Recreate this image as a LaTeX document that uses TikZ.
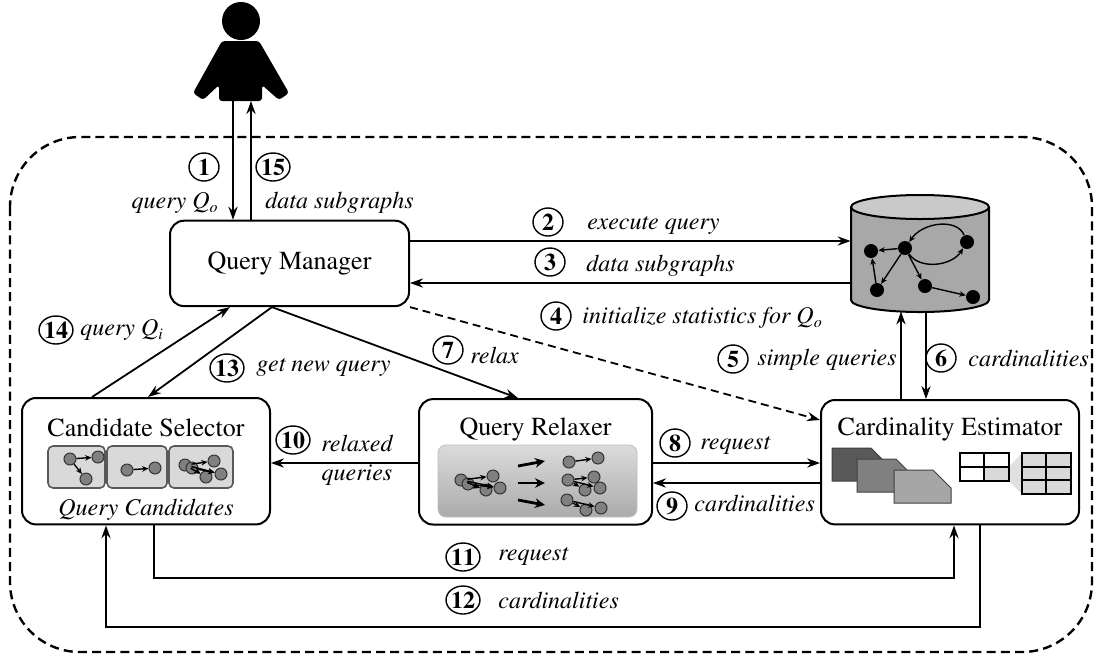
\documentclass[tikz,border=0pt]{standalone}
\usepackage[T1]{fontenc}
\usepackage{times}
\usetikzlibrary{arrows.meta,shapes.geometric}

\tikzset{
  box/.style={draw, line width=1pt, rounded corners=7pt, inner sep=0pt, fill=white},
  ttl/.style={inner sep=0pt, font=\fontsize{13}{15}\selectfont},
  num/.style={ellipse, draw, line width=0.7pt, inner sep=0pt, minimum width=15pt, minimum height=14pt, font=\bfseries\fontsize{12}{13}\selectfont},
  lab/.style={anchor=west, inner sep=0pt, font=\itshape\fontsize{12}{14.5}\selectfont},
  arr/.style={line width=0.9pt, -{Stealth[length=6.5pt,width=4.6pt,inset=2.2pt]}},
  subbox/.style={draw=black!65, fill=black!15, line width=0.8pt, rounded corners=2.5pt, inner sep=0pt, minimum height=21pt},
  gnode/.style={circle, draw=black!80, fill=black!50, line width=0.5pt, inner sep=0pt, minimum size=6pt},
  garr/.style={line width=0.7pt, -{Stealth[length=3.2pt,width=2.8pt]}},
  bigarr/.style={line width=1.4pt, -{Stealth[length=5pt,width=4.8pt]}},
  dbnode/.style={circle, fill=black, inner sep=0pt, minimum size=7pt},
  fold/.style={draw=black!75, line width=0.5pt},
}

\begin{document}
\begin{tikzpicture}[x=0.5pt, y=-0.5pt]
    \useasboundingbox (0,0) rectangle (1097,655);

    % system border
    \draw[line width=1.2pt, dash pattern=on 4.5pt off 2.6pt, rounded corners=35pt] (10,137) rectangle (1092,652);

    % user
    \fill (241,21) circle[radius=9.5pt];
    \fill[rounded corners=1.5pt] (222,41) -- (259,41) -- (289,93) -- (279,100) -- (262,85) -- (262,101) -- (219,101) -- (219,85) -- (203,100) -- (193,93) -- cycle;
    \coordinate (user) at (241,101);

    % database
    \fill[black!34] (851,207) -- (851,300) arc[start angle=180, end angle=360, x radius=34.5pt, y radius=6pt] -- (989,207) -- cycle;
    \draw[line width=1pt] (851,207) -- (851,300) arc[start angle=180, end angle=360, x radius=34.5pt, y radius=6pt] -- (989,207);
    \draw[line width=1pt, fill=black!21] (920,207) ellipse[x radius=34.5pt, y radius=6pt];
    \node[minimum width=69pt, minimum height=59pt, inner sep=0pt] (db) at (920,254) {};
    \coordinate (dbin) at (901,311.5);
    \coordinate (dbout) at (926,312);
    \node[dbnode] (g1) at (871,251) {};
    \node[dbnode] (g2) at (905,248) {};
    \node[dbnode] (g3) at (967,242) {};
    \node[dbnode] (g4) at (877,290) {};
    \node[dbnode] (g5) at (925,286) {};
    \node[dbnode] (g6) at (973,297) {};
    \draw[garr] (g2) -- (g1);
    \draw[garr] (g4) -- (g1);
    \draw[garr] (g2) -- (g4);
    \draw[garr] (g2) -- (g5);
    \draw[garr] (g5) -- (g6);
    \draw[garr] (g2) .. controls +(15,22) and +(-15,24) .. (g3);
    \draw[garr] (g3) .. controls +(-10,-24) and +(18,-26) .. (g2);

    % components
    \node[box, font=\fontsize{13}{15}\selectfont, minimum width=119.5pt, minimum height=42.7pt] (qm) at (289.5,263.4) {Query Manager};
    \node[box, minimum width=124pt, minimum height=63.2pt] (cs) at (146,461.2) {};
    \node[box, minimum width=116.5pt, minimum height=62.7pt] (qr) at (535.5,461.8) {};
    \node[box, minimum width=129pt, minimum height=62.2pt] (ce) at (950,462.2) {};

    % candidate selector
    \node[ttl] (cst) at (146,428) {Candidate Selector};
    \node[subbox, minimum width=28.5pt] (sb1) at (76.5,467) {};
    \node[subbox, minimum width=30pt] (sb2) at (137,467) {};
    \node[subbox, minimum width=32pt] (sb3) at (201,467) {};
    \node[lab, anchor=center, font=\itshape\fontsize{12}{14}\selectfont] (csl) at (146,510) {Query Candidates};
    \node[gnode] (e1) at (70,459) {};
    \node[gnode] (e2) at (98,457) {};
    \node[gnode] (e3) at (86,479) {};
    \draw[garr] (e1) -- (e2);
    \draw[garr] (e1) -- (e3);
    \node[gnode] (f1) at (127,470) {};
    \node[gnode] (f2) at (155,468) {};
    \draw[garr] (f1) -- (f2);
    \node[gnode] (h1) at (185,465) {};
    \node[gnode] (h2) at (214,461) {};
    \node[gnode] (h3) at (206,477) {};
    \node[gnode] (h4) at (221,474) {};
    \node[gnode] (h5) at (192,468) {};
    \draw[garr] (h1) -- (h2);
    \draw[garr] (h1) -- (h3);
    \draw[garr] (h5) -- (h3);
    \draw[garr] (h1) -- (h4);
    \draw[garr] (h5) -- (h4);

    % query relaxer
    \node[ttl] (qrt) at (535.5,429) {Query Relaxer};
    \node[draw=black!25, rounded corners=4pt, top color=black!14, bottom color=black!33, minimum width=99.5pt, minimum height=36pt, inner sep=0pt] (qrin) at (537.5,481) {};
    \node[gnode] (a1) at (461,480) {};
    \node[gnode] (a2) at (468,484) {};
    \node[gnode] (a3) at (493,476) {};
    \node[gnode] (a4) at (486,490) {};
    \node[gnode] (a5) at (500,488) {};
    \draw[garr] (a1) -- (a3);
    \draw[garr] (a1) -- (a4);
    \draw[garr] (a2) -- (a4);
    \draw[garr] (a2) -- (a5);
    \draw[garr] (a1) -- (a5);
    \draw[bigarr] (518,466) -- (545,461);
    \draw[bigarr] (518,483) -- (545,483);
    \draw[bigarr] (518,500) -- (545,505);
    \node[gnode] (b1) at (569,462) {};
    \node[gnode] (b2) at (598,458) {};
    \draw[garr] (b1) -- (b2);
    \node[gnode] (c1) at (568,480) {};
    \node[gnode] (c2) at (594,477) {};
    \node[gnode] (c3) at (585,490) {};
    \node[gnode] (c4) at (600,488) {};
    \draw[garr] (c1) -- (c2);
    \draw[garr] (c1) -- (c3);
    \draw[garr] (c1) -- (c4);
    \node[gnode] (d1) at (567,500) {};
    \node[gnode] (d2) at (586,510) {};
    \node[gnode] (d3) at (601,508) {};
    \draw[garr] (d1) -- (d3);
    \draw[garr] (d1) -- (d2);

    % cardinality estimator
    \node[ttl] (cet) at (950,429) {Cardinality Estimator};
    \foreach \x/\y/\c in {832/448/black!65, 857/459/black!50, 894/470/black!35}
        \filldraw[fold, fill=\c] (\x,\y) -- ++(39,0) -- ++(18,18) -- ++(0,15) -- ++(-57,0) -- cycle;
    \fill[black!12] (1009,467) -- (1022,453) -- (1022,494) -- (1009,481) -- cycle;
    \fill[black!15] (984,467) rectangle (1009,481);
    \draw[line width=0.8pt] (960,453) rectangle (1009,481) (984,453) -- (984,481) (960,467) -- (1009,467);
    \fill[black!15] (1022,453) rectangle (1071,494);
    \draw[line width=0.8pt] (1022,453) rectangle (1071,494) (1046,453) -- (1046,494) (1022,467) -- (1071,467) (1022,480) -- (1071,480);

    % connectors
    \draw[arr] (233,0 |- user) -- (233,0 |- qm.north); % user -> QM
    \draw[arr] (251,0 |- qm.north) -- (251,0 |- user); % QM -> user
    \draw[arr] (qm.east |- 0,241) -- (db.west |- 0,241); % QM -> DB
    \draw[arr] (db.west |- 0,283) -- (qm.east |- 0,283); % DB -> QM
    \draw[arr, dash pattern=on 4pt off 2.5pt] (qm.south east) -- (ce.west |- 0,420); % QM -> CE
    \draw[arr] (901,0 |- ce.north) -- (dbin); % CE -> DB
    \draw[arr] (dbout) -- (926,0 |- ce.north); % DB -> CE
    \draw[arr] (272,0 |- qm.south) -- (518,0 |- qr.north); % QM -> QR
    \draw[arr] (qr.east |- 0,463) -- (ce.west |- 0,463); % QR -> CE
    \draw[arr] (ce.west |- 0,483) -- (qr.east |- 0,483); % CE -> QR
    \draw[arr] (qr.west |- 0,463) -- (cs.east |- 0,463); % QR -> CS
    \draw[arr] (154,0 |- cs.south) |- (954,578) -- (954,0 |- ce.south); % CS -> CE
    \draw[arr] (980,0 |- ce.south) |- (106,627) -- (106,0 |- cs.south); % CE -> CS
    \draw[arr] (272,0 |- qm.south) -- (148,0 |- cs.north); % QM -> CS
    \draw[arr] (92,0 |- cs.north) -- (230,0 |- qm.south); % CS -> QM

    % step labels
    \node[num] (n1) at (204,167) {1};
    \node[lab, anchor=east] (l1) at (219,203) {query Q\textsubscript{o}};
    \node[num] (n15) at (273,167) {15};
    \node[lab] (l15) at (265,203) {data subgraphs};
    \node[num] (n2) at (548,222) {2};
    \node[lab] (l2) at (587,226) {execute query};
    \node[num] (n3) at (550,262) {3};
    \node[lab] (l3) at (586,266) {data subgraphs};
    \node[num] (n4) at (556,316) {4};
    \node[lab] (l4) at (582,318) {initialize statistics for Q\textsubscript{o}};
    \node[num] (n5) at (733,359) {5};
    \node[lab] (l5) at (757,360) {simple queries};
    \node[num] (n6) at (941,358) {6};
    \node[lab] (l6) at (968,358) {cardinalities};
    \node[num] (n7) at (448,350) {7};
    \node[lab] (l7) at (470,355) {relax};
    \node[num] (n8) at (675,443) {8};
    \node[lab] (l8) at (700,446) {request};
    \node[num] (n9) at (672,506) {9};
    \node[lab] (l9) at (694,503) {cardinalities};
    \node[num] (n10) at (293,440) {10};
    \node[lab, anchor=center, align=center] (l10) at (357,460) {relaxed\\queries};
    \node[num] (n11) at (463,557) {11};
    \node[lab] (l11) at (498,557) {request};
    \node[num] (n12) at (463,600) {12};
    \node[lab] (l12) at (498,600) {cardinalities};
    \node[num] (n13) at (227,368) {13};
    \node[lab] (l13) at (256,368) {get new query};
    \node[num] (n14) at (56,330) {14};
    \node[lab] (l14) at (80,330) {query Q\textsubscript{i}};

\end{tikzpicture}
\end{document}
